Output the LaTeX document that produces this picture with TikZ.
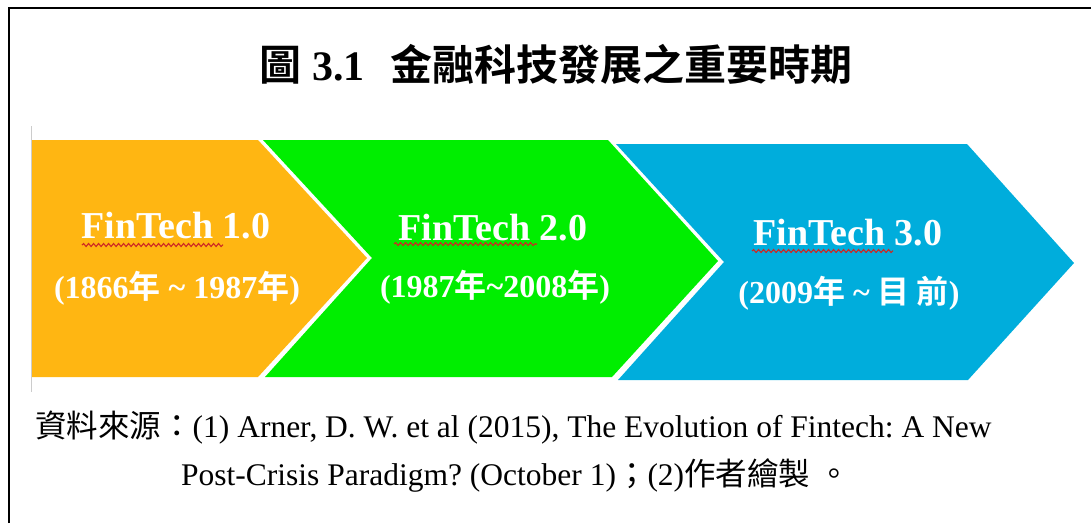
\documentclass[tikz,border=0pt]{standalone}
\usepackage{fontspec}
\setmainfont{Liberation Serif}
\newfontfamily\cjk{Noto Sans CJK TC}[BoldFont={Noto Sans CJK TC Bold}]
\usetikzlibrary{decorations.pathmorphing}
\definecolor{corange}{RGB}{255,182,18}
\definecolor{cgreen}{RGB}{0,238,0}
\definecolor{cblue}{RGB}{0,173,220}
\definecolor{wavered}{RGB}{205,40,35}
\frenchspacing
\begin{document}
\begin{tikzpicture}[x=1pt,y=-1pt,
 lbl/.style={anchor=base, text=white, font=\bfseries\fontsize{38}{40}\selectfont, inner sep=0},
 yrs/.style={anchor=base, text=white, font=\bfseries\fontsize{32}{34}\selectfont, inner sep=0},
 wavy/.style={draw=wavered, line width=1.1pt, decorate, decoration={snake, amplitude=1.5pt, segment length=5pt}},
 src/.style={anchor=base west, inner sep=0, font=\fontsize{31.5}{34}\selectfont}]
\useasboundingbox (0,0) rectangle (1091,523);
% frame
\draw[line width=2pt] (9,523) -- (9,8) -- (1091,8);
\draw[gray!40, line width=1pt] (31,126) -- (31,392);
% chevrons
\fill[cblue] (616,144) -- (967,144) -- (1074,263) -- (968,380) -- (618,380) -- (724,262) -- cycle;
\fill[cgreen] (263,140) -- (608,140) -- (718,261) -- (612,377) -- (265,377) -- (372,258) -- cycle;
\fill[corange] (32,140) -- (258,140) -- (367,258) -- (258,377) -- (32,377) -- cycle;
% title
\node[anchor=base, inner sep=0, font=\bfseries\fontsize{42}{44}\selectfont] (title) at (556,80)
  {{\cjk 圖} 3.1\hspace{0.6em}{\cjk 金融科技發展之重要時期}};
% labels
\node[lbl] (t1) at (176,238) {FinTech 1.0};
\node[yrs] (y1) at (177,298) {(1866{\cjk 年} \textasciitilde{} 1987{\cjk 年})};
\node[lbl] (t2) at (493,240) {FinTech 2.0};
\node[yrs] (y2) at (495,297) {(1987{\cjk 年}\textasciitilde 2008{\cjk 年})};
\node[lbl] (t3) at (848,245) {FinTech 3.0};
\node[yrs] (y3) at (849,303) {(2009{\cjk 年} \textasciitilde{} {\cjk 目 前})};
% spell-check underlines
\draw[wavy] (82,245) -- (223,245);
\draw[wavy] (394,244) -- (537,244);
\draw[wavy] (752,251) -- (893,251);
% source
\node[src] (s1) at (35,437) {{\cjk 資料來源：}(1) Arner, D. W. et al (2015), The Evolution of Fintech: A New};
\node[src] (s2) at (181,485) {Post-Crisis Paradigm? (October 1){\cjk ；}(2){\cjk 作者繪製\hspace{0.25em}。}};
\end{tikzpicture}
\end{document}
